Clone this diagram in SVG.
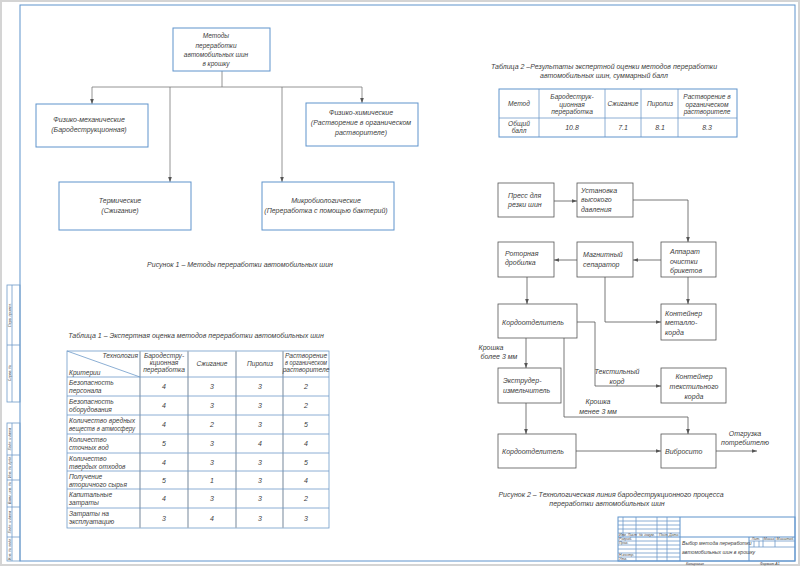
<svg xmlns="http://www.w3.org/2000/svg" width="800" height="566" viewBox="0 0 800 566">
<defs>
<style>
text{font-family:"Liberation Sans",Arial,sans-serif;font-style:italic;fill:#3d3d3d;font-size:7px}
.m{text-anchor:middle}
.s{font-size:6.5px}
.t{font-size:3.6px}
.q{font-size:6.6px}
.bx{fill:#fff;stroke:#5f93cc;stroke-width:1}
.fb{fill:#fff;stroke:#555;stroke-width:0.8}
.fr{fill:none;stroke:#5f93cc;stroke-width:1}
.tl{fill:none;stroke:#6f9bc9;stroke-width:0.8}
.cn{fill:none;stroke:#7a7a7a;stroke-width:0.8}
.fc{fill:none;stroke:#555;stroke-width:0.8}
.cl{fill:none;stroke:#a9b4c0;stroke-width:1.6}
</style>
<marker id="ah" viewBox="0 0 6 6" refX="6" refY="3" markerWidth="5" markerHeight="5" orient="auto" markerUnits="userSpaceOnUse">
<path d="M0,0.8 L6,3 L0,5.2 z" fill="#555"/>
</marker>
</defs>
<rect x="0" y="0" width="800" height="566" fill="#fff"/>
<rect x="1" y="1" width="798" height="564" fill="none" stroke="#d4d4d4" stroke-width="2"/>

<!-- drawing frame -->
<g id="frame">
<rect class="fr" x="20" y="5" width="775" height="556"/>
<rect class="tl" x="7" y="285" width="13" height="117"/>
<line class="tl" x1="12" y1="285" x2="12" y2="402"/>
<line class="tl" x1="7" y1="345" x2="20" y2="345"/>
<text class="t m" transform="translate(10.8,315) rotate(-90)">Перв. примен.</text>
<text class="t m" transform="translate(10.8,373) rotate(-90)">Справ. №</text>
<rect class="tl" x="7" y="423" width="13" height="138"/>
<line class="tl" x1="12" y1="423" x2="12" y2="561"/>
<line class="tl" x1="7" y1="455" x2="20" y2="455"/>
<line class="tl" x1="7" y1="480" x2="20" y2="480"/>
<line class="tl" x1="7" y1="507" x2="20" y2="507"/>
<line class="tl" x1="7" y1="537" x2="20" y2="537"/>
<text class="t m" transform="translate(10.8,439) rotate(-90)">Подп. и дата</text>
<text class="t m" transform="translate(10.8,467) rotate(-90)">Инв. № дубл.</text>
<text class="t m" transform="translate(10.8,493) rotate(-90)">Взам. инв. №</text>
<text class="t m" transform="translate(10.8,522) rotate(-90)">Подп. и дата</text>
<text class="t m" transform="translate(10.8,549) rotate(-90)">Инв. № подл.</text>
</g>

<!-- title block -->
<g id="titleblock">
<rect class="fr" x="618" y="517" width="177" height="44"/>
<line class="tl" x1="623" y1="517" x2="623" y2="537"/>
<line class="tl" x1="636" y1="517" x2="636" y2="561"/>
<line class="tl" x1="657" y1="517" x2="657" y2="561"/>
<line class="tl" x1="667" y1="517" x2="667" y2="561"/>
<line class="fr" x1="680" y1="517" x2="680" y2="561"/>
<line class="tl" x1="618" y1="521" x2="680" y2="521"/>
<line class="tl" x1="618" y1="525" x2="680" y2="525"/>
<line class="tl" x1="618" y1="529" x2="680" y2="529"/>
<line class="tl" x1="618" y1="533" x2="680" y2="533"/>
<line class="fr" x1="618" y1="537" x2="795" y2="537"/>
<line class="tl" x1="618" y1="541" x2="680" y2="541"/>
<line class="tl" x1="618" y1="545" x2="680" y2="545"/>
<line class="tl" x1="618" y1="549" x2="680" y2="549"/>
<line class="tl" x1="618" y1="553" x2="680" y2="553"/>
<line class="tl" x1="618" y1="557" x2="680" y2="557"/>
<line class="fr" x1="749" y1="537" x2="749" y2="561"/>
<line class="tl" x1="763" y1="537" x2="763" y2="547"/>
<line class="tl" x1="775" y1="537" x2="775" y2="547"/>
<line class="tl" x1="754" y1="541" x2="754" y2="547"/>
<line class="tl" x1="759" y1="541" x2="759" y2="547"/>
<line class="tl" x1="749" y1="541" x2="795" y2="541"/>
<line class="tl" x1="749" y1="547" x2="795" y2="547"/>
<text class="t" x="619" y="536">Изм. Лист</text>
<text class="t" x="639" y="536">№ докум.</text>
<text class="t" x="659" y="536">Подп.</text>
<text class="t" x="669" y="536">Дата</text>
<text class="t" x="619" y="540">Разраб.</text>
<text class="t" x="619" y="544">Пров.</text>
<text class="t" x="619" y="556">Н.контр.</text>
<text class="t" x="619" y="560">Утв.</text>
<text class="t m" x="756" y="540">Лит.</text>
<text class="t m" x="769" y="540">Масса</text>
<text class="t m" x="785" y="540">Масштаб</text>
<text x="682" y="545" style="font-size:5.1px">Выбор метода переработки</text>
<text x="682" y="554" style="font-size:5.1px">автомобильных шин в крошку</text>
<text class="t" x="686" y="564.5">Копировал</text>
<text class="t" x="760" y="564.5">Формат  А1</text>
</g>

<!-- Figure 1 -->
<g id="fig1-connectors">
<line class="cn" x1="222" y1="71" x2="222" y2="87"/>
<line class="cn" x1="92" y1="87" x2="362" y2="87"/>
<line class="cn" x1="92" y1="87" x2="92" y2="104" marker-end="url(#ah)"/>
<line class="cn" x1="170" y1="87" x2="170" y2="182" marker-end="url(#ah)"/>
<line class="cn" x1="282" y1="87" x2="282" y2="182" marker-end="url(#ah)"/>
<line class="cn" x1="362" y1="87" x2="362" y2="103" marker-end="url(#ah)"/>
</g>
<g id="n-root">
<rect class="bx" x="173" y="28" width="97" height="43"/>
<text class="m s" x="216" y="37.5">Методы</text>
<text class="m s" x="216" y="47.5">переработки</text>
<text class="m s" x="216" y="57">автомобильных шин</text>
<text class="m s" x="216" y="66">в крошку</text>
</g>
<g id="n-mech">
<rect class="bx" x="36" y="104" width="112" height="43"/>
<text class="m" x="89" y="121.5">Физико-механические</text>
<text class="m" x="89" y="131.5">(Бародеструкционная)</text>
</g>
<g id="n-chem">
<rect class="bx" x="306" y="103" width="112" height="43"/>
<text class="m" x="361" y="114.5">Физико-химические</text>
<text class="m" x="361" y="124.5">(Растворение в органическом</text>
<text class="m" x="361" y="134.5">растворителе)</text>
</g>
<g id="n-therm">
<rect class="bx" x="59" y="182" width="132" height="48"/>
<text class="m" x="120" y="202.5">Термические</text>
<text class="m" x="120" y="212.5">(Сжигание)</text>
</g>
<g id="n-micro">
<rect class="bx" x="262" y="182" width="132" height="48"/>
<text class="m" x="326" y="202.5">Микробиологические</text>
<text class="m" x="326" y="212.5">(Переработка  с помощью бактерий)</text>
</g>
<text class="m" x="240" y="267">Рисунок 1 – Методы переработки автомобильных шин</text>

<!-- Table 1 -->
<g id="table1">
<text class="m" x="196" y="337.5">Таблица 1 – Экспертная оценка методов переработки автомобильных шин</text>
<rect class="tl" x="67" y="351" width="262" height="177"/>
<line class="cl" x1="140" y1="351" x2="140" y2="528"/>
<line class="cl" x1="188" y1="351" x2="188" y2="528"/>
<line class="cl" x1="236" y1="351" x2="236" y2="528"/>
<line class="cl" x1="283" y1="351" x2="283" y2="528"/>
<line class="tl" x1="67" y1="377" x2="329" y2="377"/>
<line class="tl" x1="67" y1="396" x2="329" y2="396"/>
<line class="tl" x1="67" y1="415" x2="329" y2="415"/>
<line class="tl" x1="67" y1="434" x2="329" y2="434"/>
<line class="tl" x1="67" y1="453" x2="329" y2="453"/>
<line class="tl" x1="67" y1="471" x2="329" y2="471"/>
<line class="tl" x1="67" y1="489" x2="329" y2="489"/>
<line class="tl" x1="67" y1="508" x2="329" y2="508"/>
<line class="tl" x1="67" y1="351" x2="140" y2="377"/>
<text class="q" x="138" y="358" style="text-anchor:end">Технология</text>
<text class="q" x="69" y="375">Критерии</text>
<text class="m q" x="164" y="358">Бародестру-</text>
<text class="m q" x="164" y="365">кционная</text>
<text class="m q" x="164" y="372">переработка</text>
<text class="m q" x="212" y="366">Сжигание</text>
<text class="m q" x="260" y="366">Пиролиз</text>
<text class="m q" x="306" y="358">Растворение</text>
<text class="m q" x="306" y="365" textLength="42" lengthAdjust="spacingAndGlyphs">в органическом</text>
<text class="m q" x="306" y="372">растворителе</text>
<g class="rl">
<text class="q" x="69" y="385">Безопасность</text><text class="q" x="69" y="393">персонала</text>
<text class="q" x="69" y="404">Безопасность</text><text class="q" x="69" y="412">оборудования</text>
<text class="q" x="69" y="423" textLength="66" lengthAdjust="spacingAndGlyphs">Количество вредных</text><text class="q" x="69" y="431" textLength="66" lengthAdjust="spacingAndGlyphs">веществ в атмосферу</text>
<text class="q" x="69" y="442">Количество</text><text class="q" x="69" y="450">сточных вод</text>
<text class="q" x="69" y="461">Количество</text><text class="q" x="69" y="469">твердых отходов</text>
<text class="q" x="69" y="479">Получение</text><text class="q" x="69" y="487">вторичного сырья</text>
<text class="q" x="69" y="497">Капитальные</text><text class="q" x="69" y="505">затраты</text>
<text class="q" x="69" y="516">Затраты на</text><text class="q" x="69" y="524">эксплуатацию</text>
</g>
<g class="vals">
<text class="m" x="164" y="389">4</text><text class="m" x="212" y="389">3</text><text class="m" x="260" y="389">3</text><text class="m" x="306" y="389">2</text>
<text class="m" x="164" y="408">4</text><text class="m" x="212" y="408">3</text><text class="m" x="260" y="408">3</text><text class="m" x="306" y="408">2</text>
<text class="m" x="164" y="427">4</text><text class="m" x="212" y="427">2</text><text class="m" x="260" y="427">3</text><text class="m" x="306" y="427">5</text>
<text class="m" x="164" y="446">5</text><text class="m" x="212" y="446">3</text><text class="m" x="260" y="446">4</text><text class="m" x="306" y="446">4</text>
<text class="m" x="164" y="464.5">4</text><text class="m" x="212" y="464.5">3</text><text class="m" x="260" y="464.5">3</text><text class="m" x="306" y="464.5">5</text>
<text class="m" x="164" y="482.5">5</text><text class="m" x="212" y="482.5">1</text><text class="m" x="260" y="482.5">3</text><text class="m" x="306" y="482.5">4</text>
<text class="m" x="164" y="501">4</text><text class="m" x="212" y="501">3</text><text class="m" x="260" y="501">3</text><text class="m" x="306" y="501">2</text>
<text class="m" x="164" y="520.5">3</text><text class="m" x="212" y="520.5">4</text><text class="m" x="260" y="520.5">3</text><text class="m" x="306" y="520.5">3</text>
</g>
</g>

<!-- Table 2 -->
<g id="table2">
<text class="m" x="604" y="68.5">Таблица 2 –Результаты экспертной оценки методов переработки</text>
<text class="m" x="604" y="77.5">автомобильных шин, суммарный балл</text>
<rect class="bx" x="499" y="89" width="238" height="48" style="fill:none"/>
<line class="tl" x1="499" y1="118" x2="737" y2="118"/>
<line class="tl" x1="539" y1="89" x2="539" y2="137"/>
<line class="tl" x1="605" y1="89" x2="605" y2="137"/>
<line class="tl" x1="641" y1="89" x2="641" y2="137"/>
<line class="tl" x1="678" y1="89" x2="678" y2="137"/>
<text class="m q" x="519" y="106">Метод</text>
<text class="m q" x="572" y="99">Бародеструк-</text>
<text class="m q" x="572" y="106.5">ционная</text>
<text class="m q" x="572" y="114">переработка</text>
<text class="m q" x="623" y="106">Сжигание</text>
<text class="m q" x="660" y="106">Пиролиз</text>
<text class="m q" x="707" y="99">Растворение в</text>
<text class="m q" x="707" y="106.5">органическом</text>
<text class="m q" x="707" y="114">растворителе</text>
<text class="m q" x="519" y="126">Общий</text>
<text class="m q" x="519" y="133">балл</text>
<text class="m" x="572" y="130">10.8</text>
<text class="m" x="623" y="130">7.1</text>
<text class="m" x="660" y="130">8.1</text>
<text class="m" x="707" y="130">8.3</text>
</g>

<!-- Figure 2 connectors -->
<g id="fig2-connectors">
<line class="fc" x1="554" y1="201" x2="577" y2="201" marker-end="url(#ah)"/>
<polyline class="fc" points="633,200 688,200 688,242" marker-end="url(#ah)"/>
<line class="fc" x1="661" y1="260" x2="633" y2="260" marker-end="url(#ah)"/>
<line class="fc" x1="577" y1="260" x2="554" y2="260" marker-end="url(#ah)"/>
<line class="fc" x1="527" y1="277" x2="527" y2="304" marker-end="url(#ah)"/>
<line class="fc" x1="688" y1="277" x2="688" y2="304" marker-end="url(#ah)"/>
<polyline class="fc" points="605,277 605,322 661,322" marker-end="url(#ah)"/>
<polyline class="fc" points="577,322 595,322 595,386 661,386" marker-end="url(#ah)"/>
<line class="fc" x1="526" y1="338" x2="526" y2="368" marker-end="url(#ah)"/>
<polyline class="fc" points="564,338 564,417 688,417 688,434" marker-end="url(#ah)"/>
<line class="fc" x1="526" y1="403" x2="526" y2="434" marker-end="url(#ah)"/>
<line class="fc" x1="576" y1="451" x2="661" y2="451" marker-end="url(#ah)"/>
<line class="fc" x1="716" y1="451" x2="757" y2="451" marker-end="url(#ah)"/>
<text class="m" x="491" y="349.5">Крошка</text>
<text class="m" x="499" y="358.5">более 3 мм</text>
<text class="m" x="617" y="374">Текстильный</text>
<text class="m" x="617" y="383.5">корд</text>
<text class="m" x="598" y="404">Крошка</text>
<text class="m" x="598" y="413.5">менее 3 мм</text>
<text class="m" x="745" y="435.5">Отгрузка</text>
<text class="m" x="745" y="444.5">потребителю</text>
</g>
<g id="n-press">
<rect class="fb" x="498" y="183" width="56" height="34"/>
<text x="508" y="197.5">Пресс для</text>
<text x="508" y="206.5">резки шин</text>
</g>
<g id="n-hp">
<rect class="fb" x="577" y="183" width="56" height="34"/>
<text x="581" y="192.5">Установка</text>
<text x="581" y="202">высокого</text>
<text x="581" y="211.5">давления</text>
</g>
<g id="n-clean">
<rect class="fb" x="661" y="242" width="55" height="35"/>
<text x="670" y="254">Аппарат</text>
<text x="670" y="263.5">очистки</text>
<text x="670" y="273">брикетов</text>
</g>
<g id="n-mag">
<rect class="fb" x="577" y="242" width="56" height="35"/>
<text x="583" y="257">Магнитный</text>
<text x="583" y="266.5">сепаратор</text>
</g>
<g id="n-rotor">
<rect class="fb" x="498" y="242" width="56" height="35"/>
<text x="505" y="255.5">Роторная</text>
<text x="505" y="264.5">дробилка</text>
</g>
<g id="n-cord1">
<rect class="fb" x="498" y="304" width="79" height="34"/>
<text x="502" y="324.5">Кордоотделитель</text>
</g>
<g id="n-metal">
<rect class="fb" x="661" y="304" width="55" height="36"/>
<text x="665" y="315.5">Контейнер</text>
<text x="665" y="325">металло-</text>
<text x="665" y="335">корда</text>
</g>
<g id="n-textile">
<rect class="fb" x="661" y="368" width="65" height="35"/>
<text class="m" x="694" y="378.5">Контейнер</text>
<text class="m" x="694" y="389">текстильного</text>
<text class="m" x="694" y="399">корда</text>
</g>
<g id="n-extr">
<rect class="fb" x="498" y="368" width="63" height="35"/>
<text x="503" y="382.5">Экструдер-</text>
<text x="503" y="393">измельчитель</text>
</g>
<g id="n-cord2">
<rect class="fb" x="498" y="434" width="78" height="34"/>
<text x="502" y="453.5">Кордоотделитель</text>
</g>
<g id="n-vibro">
<rect class="fb" x="661" y="434" width="55" height="34"/>
<text x="665" y="453.5">Вибросито</text>
</g>
<text class="m" x="611" y="496.5">Рисунок 2 – Технологическая линия бародеструкционного процесса</text>
<text class="m" x="607" y="505.5">переработки автомобильных шин</text>
</svg>
